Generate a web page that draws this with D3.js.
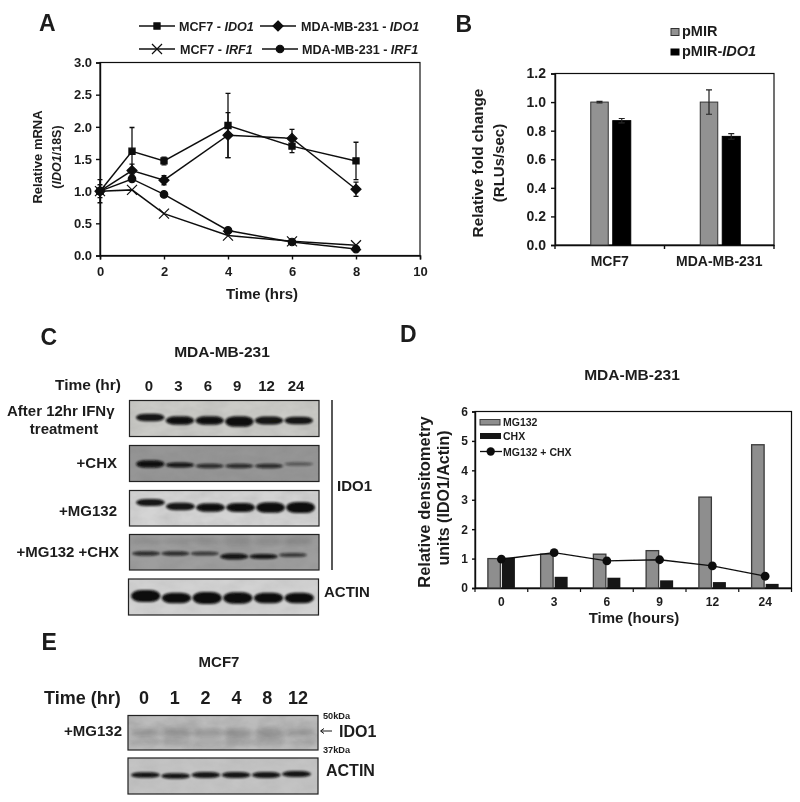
<!DOCTYPE html>
<html>
<head>
<meta charset="utf-8">
<script src="https://cdn.jsdelivr.net/npm/d3@7"></script>
<style>
  html, body { margin: 0; padding: 0; background: #fff; }
  text { font-family: "Liberation Sans", Arial, sans-serif; font-weight: bold; fill: #1c1c1c; }
</style>
</head>
<body>
<div id="fig"></div>
<script>
// panel A
var hours = [0, 1, 2, 4, 6, 8];
var mcf7Ido1 = [1.0, 1.62, 1.47, 2.02, 1.7, 1.47];
var mcf7Ido1Err = [0.18, 0.37, 0.06, 0.5, 0.1, 0.29];
var mdaIdo1 = [1.0, 1.32, 1.17, 1.87, 1.82, 1.03];
var mdaIdo1Err = [0.1, 0.1, 0.07, 0.35, 0.14, 0.11];
var mcf7Irf1 = [1.0, 1.02, 0.65, 0.31, 0.22, 0.16];
var mdaIrf1 = [1.0, 1.19, 0.95, 0.39, 0.21, 0.1];

// panel B
var cellLines = ["MCF7", "MDA-MB-231"];
var pMir = [1.0, 1.0];
var pMirErr = [0.005, 0.085];
var pMirIdo1 = [0.87, 0.76];
var pMirIdo1Err = [0.015, 0.02];

// panel D
var chxHours = ["0", "3", "6", "9", "12", "24"];
var mg132 = [1.0, 1.15, 1.15, 1.27, 3.09, 4.87];
var chx = [1.03, 0.38, 0.35, 0.26, 0.2, 0.14];
var mg132Chx = [0.98, 1.2, 0.92, 0.96, 0.75, 0.4];

// blots, band strength per lane (0-1)
var blotIfn = [0.55, 0.65, 0.65, 0.85, 0.6, 0.55];
var blotChx = [0.55, 0.3, 0.25, 0.25, 0.25, 0.15];
var blotMg = [0.5, 0.55, 0.65, 0.7, 0.85, 0.9];
var blotMgChx = [0.25, 0.25, 0.22, 0.4, 0.3, 0.22];
var blotMgChxFaint = [0.3, 0.3, 0.3, 0.7, 0.5, 0.6];
var blotActinC = [1, 0.85, 1, 0.95, 0.85, 0.85];
var mcf7Hours = ["0", "1", "2", "4", "8", "12"];
var blotMcf7 = [0.45, 0.65, 0.55, 0.65, 0.75, 0.45];
var blotMcf7Lower = [0.3, 0.6, 0.55, 0.6, 0.8, 0.3];
var blotActinE = [0.35, 0.35, 0.38, 0.38, 0.38, 0.4];

var svg = d3.select("#fig").append("svg")
  .attr("width", 800).attr("height", 802)
  .style("display", "block");

var defs = svg.append("defs");
defs.append("filter").attr("id", "soft").attr("x", "-20%").attr("y", "-60%").attr("width", "140%").attr("height", "220%")
  .append("feGaussianBlur").attr("stdDeviation", 0.9);
defs.append("filter").attr("id", "softer").attr("x", "-30%").attr("y", "-150%").attr("width", "160%").attr("height", "400%")
  .append("feGaussianBlur").attr("stdDeviation", 2);
var noise = defs.append("filter").attr("id", "grain").attr("x", 0).attr("y", 0).attr("width", "100%").attr("height", "100%");
noise.append("feTurbulence").attr("type", "fractalNoise").attr("baseFrequency", "0.05 0.09").attr("numOctaves", 3).attr("seed", 4);
noise.append("feColorMatrix").attr("type", "matrix")
  .attr("values", "0 0 0 0 0.2  0 0 0 0 0.2  0 0 0 0 0.2  0.9 0 0 0 -0.25");
defs.append("filter").attr("id", "jpeg").append("feGaussianBlur").attr("stdDeviation", 0.35);

var root = svg.append("g").attr("filter", "url(#jpeg)");

function addText(x, y, parts, size, anchor, rotate) {
  var t = root.append("text")
    .attr("font-size", size)
    .attr("text-anchor", anchor || "start");
  if (rotate) {
    t.attr("transform", "translate(" + x + "," + y + ") rotate(-90)");
  } else {
    t.attr("x", x).attr("y", y);
  }
  (Array.isArray(parts) ? parts : [parts]).forEach(function (p) {
    var italic = p.charAt(0) === "*";
    t.append("tspan")
      .style("font-style", italic ? "italic" : "normal")
      .text(italic ? p.slice(1) : p);
  });
  return t;
}

function styleAxis(g, size) {
  g.selectAll("path, line").attr("stroke", "#111").attr("stroke-width", 1.4);
  g.selectAll("text").attr("font-size", size);
}

function frame(x0, x1, y0, y1) {
  root.append("rect")
    .attr("x", x0).attr("y", y1)
    .attr("width", x1 - x0).attr("height", y0 - y1)
    .attr("fill", "none").attr("stroke", "#111").attr("stroke-width", 1.2);
}

/* ---------- A ---------- */
addText(39, 31, "A", 23);
var xA = d3.scaleLinear().domain([0, 10]).range([100, 420]);
var yA = d3.scaleLinear().domain([0, 3]).range([255.5, 62.5]);
frame(100, 420, 255.5, 62.5);
root.append("g").attr("transform", "translate(0,255.5)")
  .call(d3.axisBottom(xA).ticks(5).tickSize(4).tickPadding(7).tickFormat(d3.format("d")))
  .call(styleAxis, 13);
root.append("g").attr("transform", "translate(100,0)")
  .call(d3.axisLeft(yA).ticks(6).tickSize(4).tickPadding(4).tickFormat(d3.format(".1f")))
  .call(styleAxis, 13);
addText(262, 299, "Time (hrs)", 15, "middle");
addText(42, 157, "Relative mRNA", 13, "middle", true);
addText(61, 157, ["(", "*IDO1", "/18S)"], 12.5, "middle", true);

var markSquare = d3.symbol().type(d3.symbolSquare).size(38)();
var markDiamond = "M0,-5L5,0L0,5L-5,0Z";
var markCircle = d3.symbol().type(d3.symbolCircle).size(44)();
var markCross = "M-5,-5L5,5M-5,5L5,-5";

var lineA = d3.line()
  .x(function (d, i) { return xA(hours[i]); })
  .y(function (d) { return yA(d); });

function seriesA(values, errs, mark) {
  if (errs) {
    values.forEach(function (v, i) {
      var px = xA(hours[i]);
      root.append("path")
        .attr("d", "M" + (px - 2.5) + "," + yA(v + errs[i]) + "H" + (px + 2.5) +
          "M" + px + "," + yA(v + errs[i]) + "V" + yA(v - errs[i]) +
          "M" + (px - 2.5) + "," + yA(v - errs[i]) + "H" + (px + 2.5))
        .attr("fill", "none").attr("stroke", "#111").attr("stroke-width", 1.3);
    });
  }
  root.append("path").attr("d", lineA(values))
    .attr("fill", "none").attr("stroke", "#111").attr("stroke-width", 1.5);
  values.forEach(function (v, i) {
    root.append("path")
      .attr("transform", "translate(" + xA(hours[i]) + "," + yA(v) + ")")
      .attr("d", mark)
      .attr("fill", "#111").attr("stroke", "#111").attr("stroke-width", 1.2);
  });
}
seriesA(mcf7Ido1, mcf7Ido1Err, markSquare);
seriesA(mdaIdo1, mdaIdo1Err, markDiamond);
seriesA(mcf7Irf1, null, markCross);
seriesA(mdaIrf1, null, markCircle);

function legendA(x0, y, mark, parts, textX) {
  root.append("line").attr("x1", x0).attr("x2", x0 + 36).attr("y1", y).attr("y2", y)
    .attr("stroke", "#111").attr("stroke-width", 1.4);
  root.append("path").attr("transform", "translate(" + (x0 + 18) + "," + y + ")").attr("d", mark)
    .attr("fill", "#111").attr("stroke", "#111").attr("stroke-width", 1.2);
  addText(textX, y + 4.5, parts, 12.6);
}
legendA(139, 26, markSquare, ["MCF7 - ", "*IDO1"], 179);
legendA(260, 26, markDiamond, ["MDA-MB-231 - ", "*IDO1"], 301);
legendA(139, 49, markCross, ["MCF7 - ", "*IRF1"], 180);
legendA(262, 49, markCircle, ["MDA-MB-231 - ", "*IRF1"], 302);

/* ---------- B ---------- */
addText(455.5, 32, "B", 23);
var xB = d3.scaleBand().domain(cellLines).range([555, 774]);
var yB = d3.scaleLinear().domain([0, 1.2]).range([245, 73.5]);
frame(555, 774, 245, 73.5);
root.append("g").attr("transform", "translate(0,245)")
  .call(d3.axisBottom(xB).tickSize(0).tickPadding(11))
  .call(styleAxis, 14);
root.append("g").attr("transform", "translate(555,0)")
  .call(d3.axisLeft(yB).ticks(6).tickSize(4).tickPadding(5).tickFormat(d3.format(".1f")))
  .call(styleAxis, 14);
[555, 664.5, 774].forEach(function (px) {
  root.append("line").attr("x1", px).attr("x2", px).attr("y1", 245).attr("y2", 249)
    .attr("stroke", "#111").attr("stroke-width", 1.4);
});
addText(483, 163, "Relative fold change", 15.3, "middle", true);
addText(504, 163, "(RLUs/sec)", 15, "middle", true);

function barsB(values, errs, offset, width, fill, stroke) {
  values.forEach(function (v, i) {
    var px = xB(cellLines[i]) + xB.bandwidth() / 2 + offset;
    root.append("rect")
      .attr("x", px).attr("y", yB(v))
      .attr("width", width).attr("height", yB(0) - yB(v))
      .attr("fill", fill).attr("stroke", stroke).attr("stroke-width", 1);
    var mid = px + width / 2;
    root.append("path")
      .attr("d", "M" + (mid - 3) + "," + yB(v + errs[i]) + "H" + (mid + 3) +
        "M" + mid + "," + yB(v + errs[i]) + "V" + yB(v - errs[i]) +
        "M" + (mid - 3) + "," + yB(v - errs[i]) + "H" + (mid + 3))
      .attr("fill", "none").attr("stroke", "#222").attr("stroke-width", 1.2);
  });
}
barsB(pMir, pMirErr, -19, 17.5, "#929292", "#333");
barsB(pMirIdo1, pMirIdo1Err, 3, 18, "#060606", "#060606");

root.append("rect").attr("x", 671).attr("y", 28.5).attr("width", 8).attr("height", 7)
  .attr("fill", "#929292").attr("stroke", "#333");
root.append("rect").attr("x", 671).attr("y", 49).attr("width", 8).attr("height", 6)
  .attr("fill", "#060606").attr("stroke", "#060606");
addText(682, 36, "pMIR", 14.5);
addText(682, 56, ["pMIR-", "*IDO1"], 14.5);

/* ---------- blots ---------- */
var bandThick = d3.scaleLinear().domain([0, 1]).range([2, 12]);
var bandDark = d3.scaleLinear().domain([0.1, 0.3, 1]).range([0.3, 0.95, 1]).clamp(true);

function bands(strengths, y, laneLeft, laneRight, fade, drop, blur) {
  var lane = d3.scaleBand().domain(d3.range(strengths.length)).range([laneLeft, laneRight]).paddingInner(0.04);
  strengths.forEach(function (s, i) {
    var h = bandThick(s);
    root.append("rect")
      .attr("x", lane(i)).attr("y", y + (drop ? drop[i] : 0) - h / 2)
      .attr("width", lane.bandwidth()).attr("height", h)
      .attr("rx", lane.bandwidth() * 0.35).attr("ry", h / 2)
      .attr("fill", "#0a0a0a").attr("opacity", fade * bandDark(s))
      .attr("filter", "url(#" + (blur || "soft") + ")");
  });
}

function plate(x0, x1, y0, y1, bg, grain) {
  root.append("rect").attr("x", x0).attr("y", y0).attr("width", x1 - x0).attr("height", y1 - y0)
    .attr("fill", bg);
  root.append("rect").attr("x", x0).attr("y", y0).attr("width", x1 - x0).attr("height", y1 - y0)
    .attr("fill", "#000").attr("filter", "url(#grain)").attr("opacity", grain);
}

function edge(x0, x1, y0, y1) {
  root.append("rect").attr("x", x0).attr("y", y0).attr("width", x1 - x0).attr("height", y1 - y0)
    .attr("fill", "none").attr("stroke", "#222").attr("stroke-width", 1.2);
}

/* ---------- C ---------- */
addText(40.5, 345, "C", 23);
addText(222, 357, "MDA-MB-231", 15.5, "middle");
addText(55, 390, "Time (hr)", 15.5);
var laneLabelC = d3.scalePoint().domain(chxHours).range([149, 296]);
chxHours.forEach(function (h) {
  addText(laneLabelC(h), 391, h, 15, "middle");
});
plate(129.5, 319, 400.5, 436.5, "#cbcbc7", 0.3);
bands(blotIfn, 420.5, 136, 313, 1, [-3, 0, 0, 1, 0, 0]);
edge(129.5, 319, 400.5, 436.5);
plate(129.5, 319, 445.5, 481.5, "#969696", 0.45);
bands(blotChx, 465, 136, 313, 1, [-1, 0, 1, 1, 1, -1]);
edge(129.5, 319, 445.5, 481.5);
plate(129.5, 319, 490.5, 526, "#d4d4d4", 0.3);
bands(blotMg, 507.5, 136, 315, 1, [-5, -1, 0, 0, 0, 0]);
edge(129.5, 319, 490.5, 526);
plate(129.5, 319, 534.5, 570, "#9e9e9e", 0.45);
bands(blotMgChxFaint, 541, 133, 312, 0.12, null, "softer");
bands(blotMgChx, 553.5, 132, 307, 1, [0, 0, 0, 3, 3, 1.5]);
edge(129.5, 319, 534.5, 570);
plate(128.5, 318.5, 579, 615, "#d2d2d2", 0.2);
bands(blotActinC, 598, 131, 314, 1, [-2, 0, 0, 0, 0, 0]);
edge(128.5, 318.5, 579, 615);
root.append("line").attr("x1", 332).attr("x2", 332).attr("y1", 400).attr("y2", 570)
  .attr("stroke", "#111").attr("stroke-width", 1.4);
addText(7, 416, "After 12hr IFNγ", 15);
addText(64, 434, "treatment", 15, "middle");
addText(117, 468, "+CHX", 15, "end");
addText(117, 516, "+MG132", 15, "end");
addText(119, 557, "+MG132 +CHX", 15, "end");
addText(337, 491, "IDO1", 15);
addText(324, 597, "ACTIN", 15);

/* ---------- D ---------- */
addText(400, 342, "D", 23);
addText(632, 380, "MDA-MB-231", 15.5, "middle");
var xD = d3.scaleBand().domain(chxHours).range([475, 791.5]);
var yD = d3.scaleLinear().domain([0, 6]).range([588, 411.5]);
frame(475, 791.5, 588, 411.5);
root.append("g").attr("transform", "translate(0,588)")
  .call(d3.axisBottom(xD).tickSize(0).tickPadding(9))
  .call(styleAxis, 12);
root.append("g").attr("transform", "translate(475,0)")
  .call(d3.axisLeft(yD).ticks(6).tickSize(3).tickPadding(4))
  .call(styleAxis, 12);
d3.range(7).forEach(function (i) {
  var px = 475 + i * xD.bandwidth();
  root.append("line").attr("x1", px).attr("x2", px).attr("y1", 588).attr("y2", 592)
    .attr("stroke", "#111").attr("stroke-width", 1.2);
});
mg132.forEach(function (v, i) {
  root.append("rect")
    .attr("x", xD(chxHours[i]) + xD.bandwidth() / 2 - 13.5).attr("y", yD(v))
    .attr("width", 12.5).attr("height", yD(0) - yD(v))
    .attr("fill", "#8e8e8e").attr("stroke", "#3a3a3a").attr("stroke-width", 1.3);
});
chx.forEach(function (v, i) {
  root.append("rect")
    .attr("x", xD(chxHours[i]) + xD.bandwidth() / 2 + 0.5).attr("y", yD(v))
    .attr("width", 13).attr("height", yD(0) - yD(v))
    .attr("fill", "#141414");
});
var lineD = d3.line()
  .x(function (d, i) { return xD(chxHours[i]) + xD.bandwidth() / 2; })
  .y(function (d) { return yD(d); });
root.append("path").attr("d", lineD(mg132Chx))
  .attr("fill", "none").attr("stroke", "#111").attr("stroke-width", 1.3);
mg132Chx.forEach(function (v, i) {
  root.append("circle")
    .attr("cx", xD(chxHours[i]) + xD.bandwidth() / 2).attr("cy", yD(v))
    .attr("r", 4.4).attr("fill", "#111");
});
root.append("rect").attr("x", 480).attr("y", 419.5).attr("width", 20).attr("height", 5.5)
  .attr("fill", "#8e8e8e").attr("stroke", "#3a3a3a");
root.append("rect").attr("x", 480).attr("y", 433).attr("width", 21).attr("height", 6)
  .attr("fill", "#141414");
root.append("line").attr("x1", 480).attr("x2", 502).attr("y1", 451.5).attr("y2", 451.5)
  .attr("stroke", "#111").attr("stroke-width", 1.3);
root.append("circle").attr("cx", 490.7).attr("cy", 451.5).attr("r", 4.2).attr("fill", "#111");
addText(503, 426, "MG132", 10.5);
addText(503, 440, "CHX", 10.5);
addText(503, 456, "MG132 + CHX", 10.5);
addText(429.5, 502, "Relative densitometry", 16.5, "middle", true);
addText(449, 498, "units (IDO1/Actin)", 16, "middle", true);
addText(634, 623, "Time (hours)", 15, "middle");

/* ---------- E ---------- */
addText(41.5, 650, "E", 23);
addText(219, 667, "MCF7", 15, "middle");
addText(44, 704, "Time (hr)", 18);
var laneLabelE = d3.scalePoint().domain(mcf7Hours).range([144, 298]);
mcf7Hours.forEach(function (h) {
  addText(laneLabelE(h), 704, h, 18, "middle");
});
plate(128, 318, 715.5, 750, "#bcbcbc", 0.5);
bands(blotMcf7, 733, 131, 315, 0.2, null, "softer");
bands(blotMcf7Lower, 742, 131, 315, 0.1, null, "softer");
edge(128, 318, 715.5, 750);
plate(128, 318, 758, 794, "#c4c4c4", 0.2);
bands(blotActinE, 775, 131, 311, 1, [0, 1, 0, 0, 0, -1]);
edge(128, 318, 758, 794);
addText(122, 736, "+MG132", 15, "end");
addText(323, 719, "50kDa", 9.2);
addText(323, 753, "37kDa", 9.2);
root.append("path").attr("d", "M332,731H321M324,728.5L320.5,731L324,733.5")
  .attr("fill", "none").attr("stroke", "#111").attr("stroke-width", 1);
addText(339, 737, "IDO1", 16);
addText(326, 776, "ACTIN", 16);
</script>
</body>
</html>
